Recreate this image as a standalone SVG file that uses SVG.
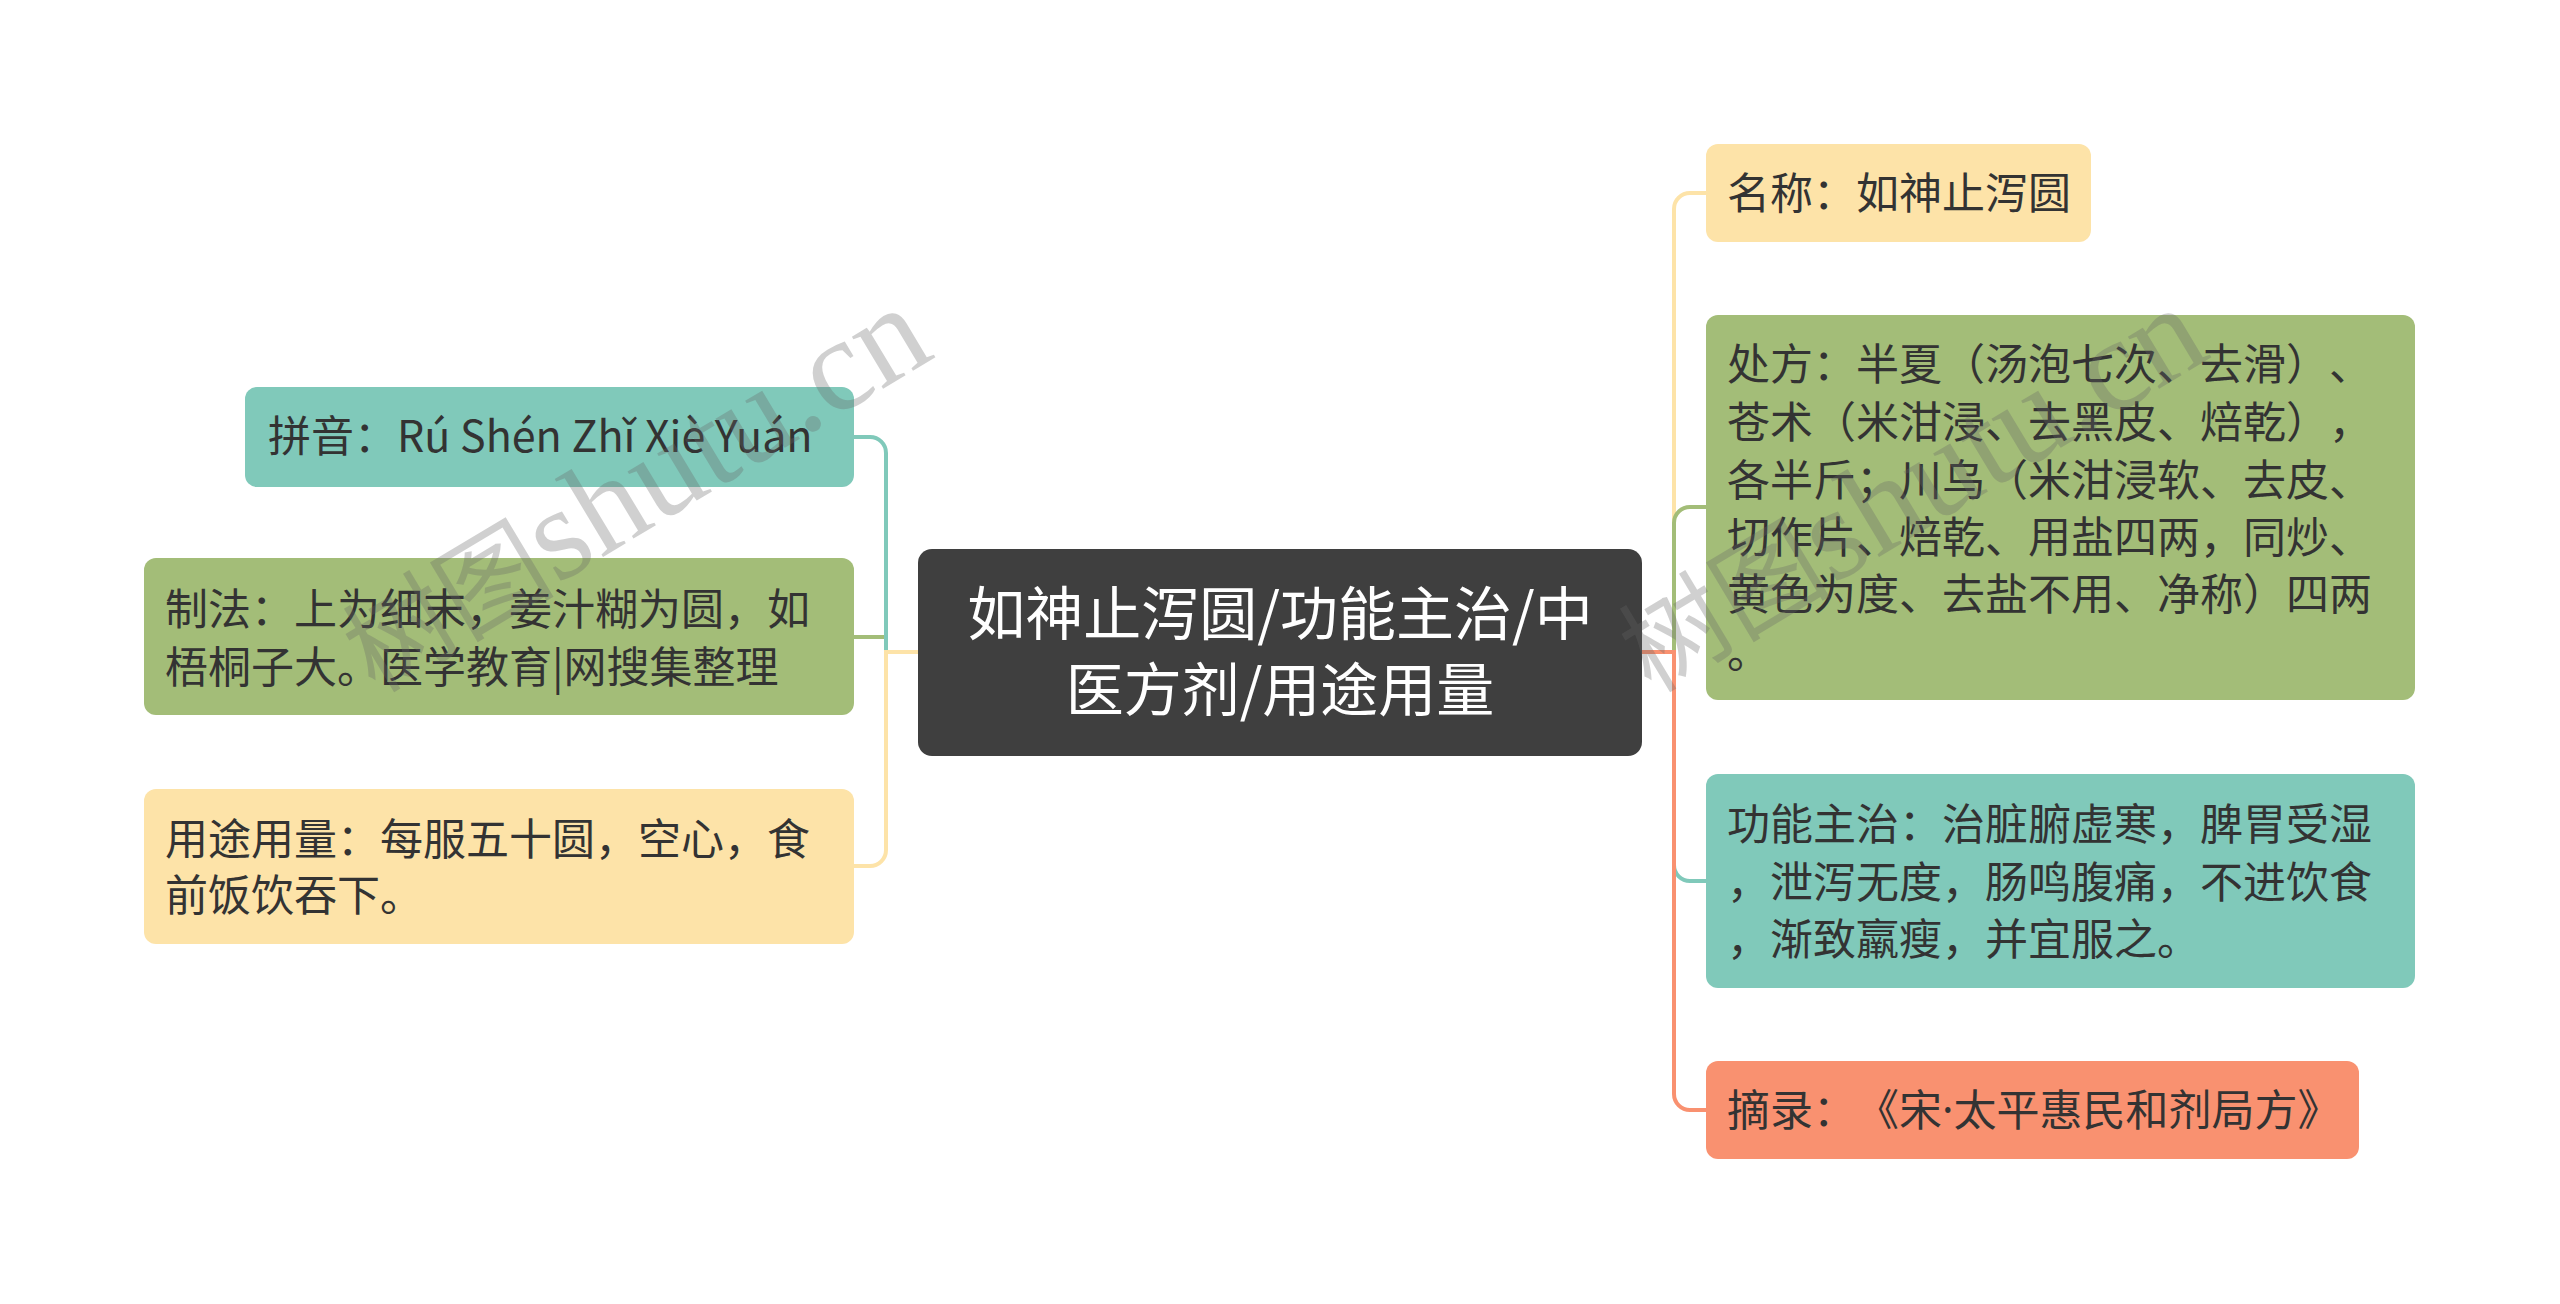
<svg xmlns="http://www.w3.org/2000/svg" width="2560" height="1304" viewBox="0 0 2560 1304">
<style>
.t{font-family:"Noto Sans CJK SC","Noto Sans",sans-serif;font-size:43px;fill:#333333;text-spacing-trim:space-all}
.c{font-family:"Noto Sans CJK SC","Noto Sans",sans-serif;font-size:58px;fill:#ffffff;text-anchor:middle;text-spacing-trim:space-all}
.ln{fill:none;stroke-width:4;stroke-linecap:butt}
.wm{font-family:"Liberation Serif","Noto Sans CJK SC",serif;font-size:132px;fill:#666666;opacity:0.3}
.wc{font-family:"Noto Sans CJK SC",serif;font-size:106px}
.dot{font-family:"Noto Sans","Liberation Sans",sans-serif}
</style>
<rect width="2560" height="1304" fill="#ffffff"/>
<g id="connectors">
<path class="ln" stroke="#a3bd78" d="M918 652 H886 V637 H854"/>
<path class="ln" stroke="#80c9ba" d="M918 652 H886 V453 A16 16 0 0 0 870 437 H854"/>
<path class="ln" stroke="#fde3a8" d="M918 652 H886 V850 A16 16 0 0 1 870 866 H854"/>
<path class="ln" stroke="#fde3a8" d="M1642 652 H1674 V209 A16 16 0 0 1 1690 193 H1706"/>
<path class="ln" stroke="#a3bd78" d="M1642 652 H1674 V523 A16 16 0 0 1 1690 507 H1706"/>
<path class="ln" stroke="#80c9ba" d="M1642 652 H1674 V865 A16 16 0 0 0 1690 881 H1706"/>
<path class="ln" stroke="#f99170" d="M1642 652 H1674 V1094 A16 16 0 0 0 1690 1110 H1706"/>
</g>
<g id="center">
<rect x="918" y="549" width="724" height="207" rx="14" fill="#3f3f3f"/>
<text class="c" x="1280" y="635">如神止泻圆/功能主治/中</text>
<text class="c" x="1280" y="711">医方剂/用途用量</text>
</g>
<g id="pinyin">
<rect x="245" y="387" width="609" height="100" rx="12" fill="#80c9ba"/>
<text class="t" x="268" y="452">拼音：Rú Shén Zhǐ Xiè Yuán</text>
</g>
<g id="zhifa">
<rect x="144" y="558" width="710" height="157" rx="12" fill="#a3bd78"/>
<text class="t" x="165" y="625">制法：上为细末，姜汁糊为圆，如</text>
<text class="t" x="165" y="683">梧桐子大。医学教育|网搜集整理</text>
</g>
<g id="yongtu">
<rect x="144" y="789" width="710" height="155" rx="12" fill="#fde3a8"/>
<text class="t" x="165" y="855">用途用量：每服五十圆，空心，食</text>
<text class="t" x="165" y="911">前饭饮吞下。</text>
</g>
<g id="mingcheng">
<rect x="1706" y="144" width="385" height="98" rx="12" fill="#fde3a8"/>
<text class="t" x="1727" y="209">名称：如神止泻圆</text>
</g>
<g id="chufang">
<rect x="1706" y="315" width="709" height="385" rx="12" fill="#a3bd78"/>
<text class="t" x="1727" y="380">处方：半夏（汤泡七次、去滑）、</text>
<text class="t" x="1727" y="438">苍术（米泔浸、去黑皮、焙乾），</text>
<text class="t" x="1727" y="496">各半斤；川乌（米泔浸软、去皮、</text>
<text class="t" x="1727" y="553">切作片、焙乾、用盐四两，同炒、</text>
<text class="t" x="1727" y="610">黄色为度、去盐不用、净称）四两</text>
<text class="t" x="1727" y="668">。</text>
</g>
<g id="gongneng">
<rect x="1706" y="774" width="709" height="214" rx="12" fill="#80c9ba"/>
<text class="t" x="1727" y="840">功能主治：治脏腑虚寒，脾胃受湿</text>
<text class="t" x="1727" y="898">，泄泻无度，肠鸣腹痛，不进饮食</text>
<text class="t" x="1727" y="955">，渐致羸瘦，并宜服之。</text>
</g>
<g id="zhailu">
<rect x="1706" y="1061" width="653" height="98" rx="12" fill="#f99170"/>
<text class="t" x="1727" y="1126">摘录：《宋<tspan class="dot">·</tspan>太平惠民和剂局方》</text>
</g>
<g id="watermarks">
<text class="wm" transform="translate(375 694) rotate(-31)"><tspan class="wc">树图</tspan>shutu.cn</text>
<text class="wm" transform="translate(1651 694) rotate(-31)"><tspan class="wc">树图</tspan>shutu.cn</text>
</g>
</svg>
